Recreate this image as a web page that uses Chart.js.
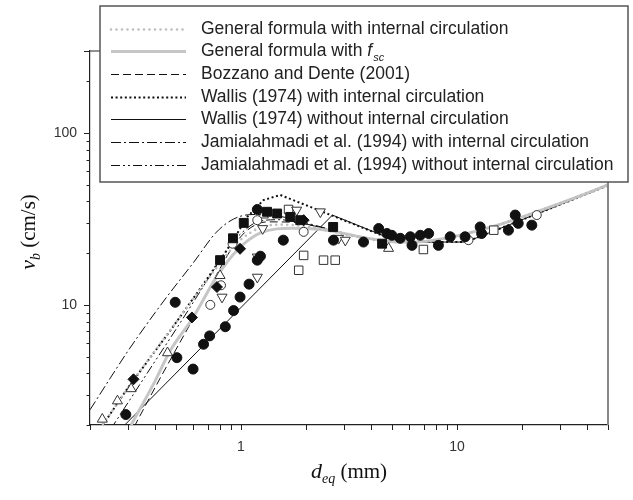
<!DOCTYPE html>
<html>
<head>
<meta charset="utf-8">
<script src="https://cdn.jsdelivr.net/npm/chart.js@4.4.1/dist/chart.umd.min.js"></script>
<style>
  html, body { margin: 0; padding: 0; background: #fff; }
  #box { width: 633px; height: 500px; }
</style>
</head>
<body>
<div id="box"><canvas id="chart"></canvas></div>
<script>
// axis ticks (log scales)
const xTicks = [0.2, 0.3, 0.4, 0.5, 0.6, 0.7, 0.8, 0.9, 1, 2, 3, 4, 5, 6, 7, 8, 9, 10, 20, 30, 40, 50];
const yTicks = [2, 3, 4, 5, 6, 7, 8, 9, 10, 20, 30, 40, 50, 60, 70, 80, 90, 100, 200, 300];
const xLabelled = [1, 10];
const yLabelled = [10, 100];

// model curves: d_eq (mm) -> v_b (cm/s)
const genCircX = [0.2, 0.25, 0.3, 0.4, 0.5, 0.6, 0.7, 0.8, 0.9, 1, 1.2, 1.5, 2, 3, 4, 5, 6, 8, 10, 15, 20, 30, 40, 50];
const genCircY = [1.6, 2.35, 3.3, 5.4, 7.9, 10.8, 14, 17.5, 21, 24, 27.8, 29.3, 28.6, 25.8, 24, 23.3, 23.1, 23.8, 25.2, 28.8, 32.4, 39, 44.7, 50];

const genFscX = [0.31, 0.4, 0.47, 0.6, 0.77, 0.96, 1.23, 1.74, 2.5, 3.5, 4.5, 5.5, 7, 10, 15, 20, 30, 40, 50];
const genFscY = [2.0, 3.6, 5.4, 8.45, 14.5, 20.8, 26.2, 27.9, 27.2, 25.0, 23.7, 23.2, 23.4, 25.2, 28.8, 32.4, 39, 44.7, 50];

const bozzanoX = [0.32, 0.4, 0.5, 0.6, 0.7, 0.8, 0.9, 1.07, 1.32, 1.7, 2.2, 3, 4, 5.5, 7, 10, 15, 20, 30, 40, 50];
const bozzanoY = [1.95, 3.3, 5.5, 8.3, 12, 16.3, 21, 27.2, 30.4, 30.3, 28.8, 26, 24.2, 23.2, 23.4, 25.2, 28.8, 32.4, 39, 44.7, 50];

const wallisCircX = [0.2, 0.25, 0.3, 0.47, 0.67, 0.86, 1.07, 1.27, 1.52, 5.37, 11, 50];
const wallisCircY = [1.55, 2.35, 3.3, 7.07, 13.2, 20.8, 32.5, 40.7, 43.6, 23.2, 23.2, 49.5];

const wallisNoX = [0.2, 2.65, 5.4, 11, 50];
const wallisNoY = [1.25, 33.3, 23.2, 23.2, 49.5];

const jamCircX = [0.2, 0.25, 0.3, 0.4, 0.47, 0.6, 0.77, 0.92, 1.1, 1.3, 1.6, 2, 3, 4, 5.5, 7, 10, 15, 20, 30, 40, 50];
const jamCircY = [2.45, 3.8, 5.4, 9.0, 11.8, 17.5, 26.5, 31.5, 33.5, 33.6, 32.3, 30, 26.2, 24.3, 23.3, 23.4, 25.2, 28.8, 32.4, 39, 44.7, 50];

const jamNoX = [0.25, 0.3, 0.4, 0.5, 0.6, 0.7, 0.8, 0.9, 1, 1.2, 1.5, 2, 3, 4, 5.5, 7, 10, 15, 20, 30, 40, 50];
const jamNoY = [1.9, 2.7, 4.7, 7.2, 10.3, 14, 18.2, 22.5, 26, 30.5, 31.3, 29.5, 26, 24.2, 23.2, 23.4, 25.2, 28.8, 32.4, 39, 44.7, 50];

// experimental points
const filledCircleX = [0.293, 0.496, 0.505, 0.60, 0.671, 0.716, 0.846, 0.924, 0.99, 1.09, 1.19, 1.23, 1.19, 1.57, 2.68, 3.69, 4.34, 4.74, 4.99, 5.46, 6.08, 6.19, 6.76, 7.39, 8.2, 9.3, 10.9, 12.8, 13.0, 17.3, 18.6, 19.2, 22.2];
const filledCircleY = [2.30, 10.35, 4.93, 4.23, 5.9, 6.6, 7.46, 9.26, 11.1, 13.2, 18.2, 19.2, 35.9, 23.8, 23.8, 23.2, 27.8, 26.0, 25.4, 24.4, 24.9, 22.2, 25.4, 26.0, 22.2, 24.9, 24.9, 28.4, 26.0, 27.2, 33.3, 29.8, 29.1];

const filledSquareX = [0.80, 0.918, 1.03, 1.32, 1.47, 1.69, 1.88, 2.67, 4.5];
const filledSquareY = [18.2, 24.4, 30.0, 34.8, 34.0, 32.5, 31.1, 28.4, 22.7];

const filledDiamondX = [0.318, 0.593, 0.774, 0.99, 1.95];
const filledDiamondY = [3.69, 8.45, 12.7, 21.2, 31.1];

const openCircleX = [0.721, 0.808, 0.914, 1.19, 1.95, 11.3, 23.4];
const openCircleY = [10.0, 13.0, 22.7, 31.1, 26.6, 23.8, 33.3];

const openTriUpX = [0.228, 0.268, 0.31, 0.457, 0.80, 1.27, 4.82];
const openTriUpY = [2.16, 2.76, 3.25, 5.26, 14.8, 33.3, 21.3];

const openTriDownX = [0.817, 1.19, 1.19, 1.26, 1.81, 2.33, 2.83, 3.04];
const openTriDownY = [11.1, 19.0, 14.5, 27.8, 35.6, 34.8, 24.4, 23.8];

const openSquareX = [1.66, 1.85, 1.95, 2.41, 2.73, 6.99, 14.8];
const openSquareY = [35.9, 15.9, 19.4, 18.2, 18.2, 21.0, 27.2];

const pts = (xs, ys) => xs.map((x, i) => ({ x: x, y: ys[i] }));

const curve = (label, xs, ys, color, width, dash, cap, smooth) => ({
  type: 'line',
  label: label,
  data: pts(xs, ys),
  borderColor: color,
  borderWidth: width,
  borderDash: dash,
  borderCapStyle: cap,
  cubicInterpolationMode: smooth ? 'monotone' : 'default',
  tension: 0,
  pointRadius: 0,
  fill: false,
  order: 2,
  isCurve: true
});

const marks = (label, xs, ys, style, filled, radius, rotation) => ({
  type: 'scatter',
  label: label,
  data: pts(xs, ys),
  pointStyle: style,
  pointRotation: rotation || 0,
  pointRadius: radius,
  backgroundColor: filled ? '#111' : '#fff',
  borderColor: filled ? '#111' : '#333',
  borderWidth: 1,
  order: 0
});

const datasets = [
  curve('General formula with internal circulation', genCircX, genCircY, '#bdbdbd', 2.6, [0, 5.5], 'round', true),
  curve('General formula with f_sc', genFscX, genFscY, '#c6c6c6', 3, [], 'butt', true),
  curve('Bozzano and Dente (2001)', bozzanoX, bozzanoY, '#111', 1, [8, 4], 'butt', true),
  curve('Wallis (1974) with internal circulation', wallisCircX, wallisCircY, '#111', 2, [2, 2.6], 'butt', false),
  curve('Wallis (1974) without internal circulation', wallisNoX, wallisNoY, '#111', 1, [], 'butt', false),
  curve('Jamialahmadi et al. (1994) with internal circulation', jamCircX, jamCircY, '#111', 1, [10, 3, 2, 3], 'butt', true),
  curve('Jamialahmadi et al. (1994) without internal circulation', jamNoX, jamNoY, '#111', 1, [9, 3, 2, 3, 2, 3], 'butt', true),
  marks('filled circles', filledCircleX, filledCircleY, 'circle', true, 5),
  marks('filled squares', filledSquareX, filledSquareY, 'rect', true, 6.3),
  marks('filled diamonds', filledDiamondX, filledDiamondY, 'rectRot', true, 5.5),
  marks('open circles', openCircleX, openCircleY, 'circle', false, 4.5),
  marks('open triangles up', openTriUpX, openTriUpY, 'triangle', false, 5.8),
  marks('open triangles down', openTriDownX, openTriDownY, 'triangle', false, 5.8, 180),
  marks('open squares', openSquareX, openSquareY, 'rect', false, 6)
];

const sans = "'Liberation Sans', Arial, sans-serif";
const serif = "'Liberation Serif', 'Times New Roman', serif";
const legendFont = 17.5;

// ticks, frame, legend box and axis titles
const decorations = {
  id: 'decorations',
  afterDraw(chart) {
    const c = chart.ctx, a = chart.chartArea;
    const sx = chart.scales.x, sy = chart.scales.y;
    c.save();

    // frame on right / top
    c.strokeStyle = '#888';
    c.lineWidth = 2;
    c.beginPath();
    c.moveTo(a.right, a.bottom);
    c.lineTo(a.right, a.top);
    c.stroke();
    c.strokeStyle = '#222';
    c.lineWidth = 1.2;
    c.beginPath();
    c.moveTo(a.left, a.top);
    c.lineTo(a.right, a.top);
    c.stroke();

    // tick marks
    c.strokeStyle = '#222';
    c.lineWidth = 1;
    xTicks.forEach(v => {
      const p = Math.round(sx.getPixelForValue(v)) + 0.5;
      c.beginPath();
      c.moveTo(p, a.bottom);
      c.lineTo(p, a.bottom + 5);
      c.stroke();
    });
    yTicks.forEach(v => {
      const p = Math.round(sy.getPixelForValue(v)) + 0.5;
      const len = yLabelled.includes(v) || v === 300 ? 6 : 3.5;
      c.beginPath();
      c.moveTo(a.left, p);
      c.lineTo(a.left - len, p);
      c.stroke();
    });

    // legend
    const L = 100, T = 6, R = 628, B = 182;
    c.fillStyle = '#fff';
    c.fillRect(L, T, R - L, B - T);
    c.strokeStyle = '#555';
    c.lineWidth = 1.5;
    c.strokeRect(L, T, R - L, B - T);

    const curves = chart.data.datasets.filter(d => d.isCurve);
    curves.forEach((d, i) => {
      const y = Math.round(28.5 + i * 22.7) + 0.5;
      c.save();
      c.strokeStyle = d.borderColor;
      c.lineWidth = d.borderWidth;
      c.lineCap = d.borderCapStyle;
      c.setLineDash(d.borderDash);
      c.beginPath();
      c.moveTo(111, y);
      c.lineTo(186, y);
      c.stroke();
      c.restore();

      c.fillStyle = '#222';
      c.textBaseline = 'middle';
      c.textAlign = 'left';
      c.font = legendFont + 'px ' + sans;
      if (d.label === 'General formula with f_sc') {
        const head = 'General formula with ';
        c.fillText(head, 201, y);
        let x = 201 + c.measureText(head).width;
        c.font = 'italic ' + legendFont + 'px ' + sans;
        c.fillText('f', x, y);
        x += c.measureText('f').width + 1;
        c.font = 'italic 11px ' + sans;
        c.fillText('sc', x, y + 6);
      } else {
        c.fillText(d.label, 201, y);
      }
    });

    // axis titles
    c.fillStyle = '#111';
    c.textBaseline = 'alphabetic';
    c.textAlign = 'left';
    // x title: d_eq (mm)
    c.font = 'italic 22px ' + serif;
    const wD = c.measureText('d').width;
    c.font = 'italic 14px ' + serif;
    const wEq = c.measureText('eq').width;
    c.font = '21px ' + serif;
    const wMm = c.measureText(' (mm)').width;
    let x0 = (a.left + a.right) / 2 - (wD + wEq + wMm) / 2;
    const yb = 478;
    c.font = 'italic 22px ' + serif;
    c.fillText('d', x0, yb);
    c.font = 'italic 14px ' + serif;
    c.fillText('eq', x0 + wD, yb + 5);
    c.font = '21px ' + serif;
    c.fillText(' (mm)', x0 + wD + wEq, yb);

    // y title: v_b (cm/s)
    c.translate(35, 232);
    c.rotate(-Math.PI / 2);
    c.font = 'italic 22px ' + serif;
    const wV = c.measureText('v').width;
    c.font = 'italic 14px ' + serif;
    const wB = c.measureText('b').width;
    c.font = '21px ' + serif;
    const wCm = c.measureText(' (cm/s)').width;
    let y0 = -(wV + wB + wCm) / 2;
    c.font = 'italic 22px ' + serif;
    c.fillText('v', y0, 0);
    c.font = 'italic 14px ' + serif;
    c.fillText('b', y0 + wV, 5);
    c.font = '21px ' + serif;
    c.fillText(' (cm/s)', y0 + wV + wB, 0);

    c.restore();
  }
};

new Chart(document.getElementById('chart').getContext('2d'), {
  data: { datasets: datasets },
  options: {
    responsive: true,
    maintainAspectRatio: false,
    animation: false,
    events: [],
    layout: { padding: { left: 0, right: 25, top: 51, bottom: 0 } },
    plugins: { legend: { display: false }, tooltip: { enabled: false } },
    scales: {
      x: {
        type: 'logarithmic',
        min: 0.2,
        max: 50,
        afterBuildTicks: s => { s.ticks = xTicks.map(v => ({ value: v })); },
        afterFit: s => { s.height = 75; },
        ticks: {
          autoSkip: false,
          maxRotation: 0,
          padding: 9,
          color: '#333',
          font: { family: sans, size: 14 },
          callback: v => xLabelled.includes(v) ? String(v) : ''
        },
        grid: { drawOnChartArea: false, drawTicks: true, tickLength: 5, tickColor: 'rgba(0,0,0,0)' },
        border: { display: true, color: '#222', width: 1.2 }
      },
      y: {
        type: 'logarithmic',
        min: 2,
        max: 300,
        afterBuildTicks: s => { s.ticks = yTicks.map(v => ({ value: v })); },
        afterFit: s => { s.width = 90; },
        ticks: {
          autoSkip: false,
          padding: 7,
          color: '#333',
          font: { family: sans, size: 14 },
          callback: v => yLabelled.includes(v) ? String(v) : ''
        },
        grid: { drawOnChartArea: false, drawTicks: true, tickLength: 6, tickColor: 'rgba(0,0,0,0)' },
        border: { display: true, color: '#222', width: 1.2 }
      }
    }
  },
  plugins: [decorations]
});
</script>
</body>
</html>
